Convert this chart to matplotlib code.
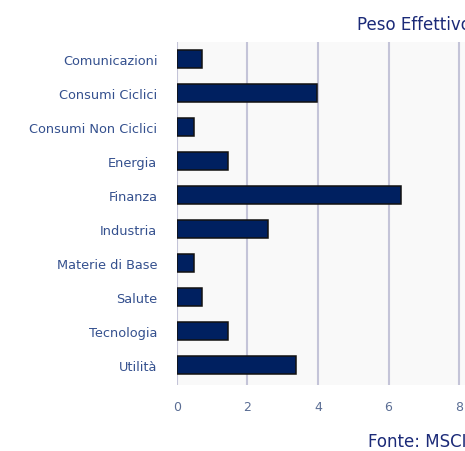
import numpy as np
import matplotlib.pyplot as plt

# Sector weights (%)
sectors = ["Comunicazioni", "Consumi Ciclici", "Consumi Non Ciclici", "Energia",
           "Finanza", "Industria", "Materie di Base", "Salute", "Tecnologia", "Utilità"]
weights = [0.71, 3.97, 0.48, 1.45, 6.35, 2.6, 0.48, 0.71, 1.45, 3.39]
xticks = [0, 2, 4, 6, 8]

fig = plt.figure(figsize=(4.65, 4.52), dpi=100)
ax = fig.add_axes([176.7 / 465, 1 - 386 / 452, 1 - 176.7 / 465, (386 - 43) / 452])
ax.set_facecolor("#f9f9f9")

y = np.arange(len(sectors))
ax.barh(y, weights, height=0.53, color="#002060", edgecolor="#111111", linewidth=1.1, zorder=3)

ax.set_xlim(0, (465 - 176.7) / 35.3)
ax.set_ylim(9.6, -0.5)
ax.set_xticks(xticks)
ax.set_yticks(y)
ax.set_yticklabels(sectors)
ax.grid(axis="x", color="#c4c4d8", linewidth=1.5, zorder=0)
for s in ax.spines.values():
    s.set_visible(False)
ax.tick_params(axis="y", length=0, pad=14, labelsize=9.3, labelcolor="#34508e")
ax.tick_params(axis="x", length=0, pad=11, labelsize=9, labelcolor="#5a6d94")

fig.text(357 / 465, 1 - 30 / 452, "Peso Effettivo", fontsize=12, color="#1b2a78", va="baseline")
fig.text(368 / 465, 1 - 447 / 452, "Fonte: MSCI", fontsize=12, color="#1b2a78", va="baseline")

fig.savefig("out.png", dpi=100)
